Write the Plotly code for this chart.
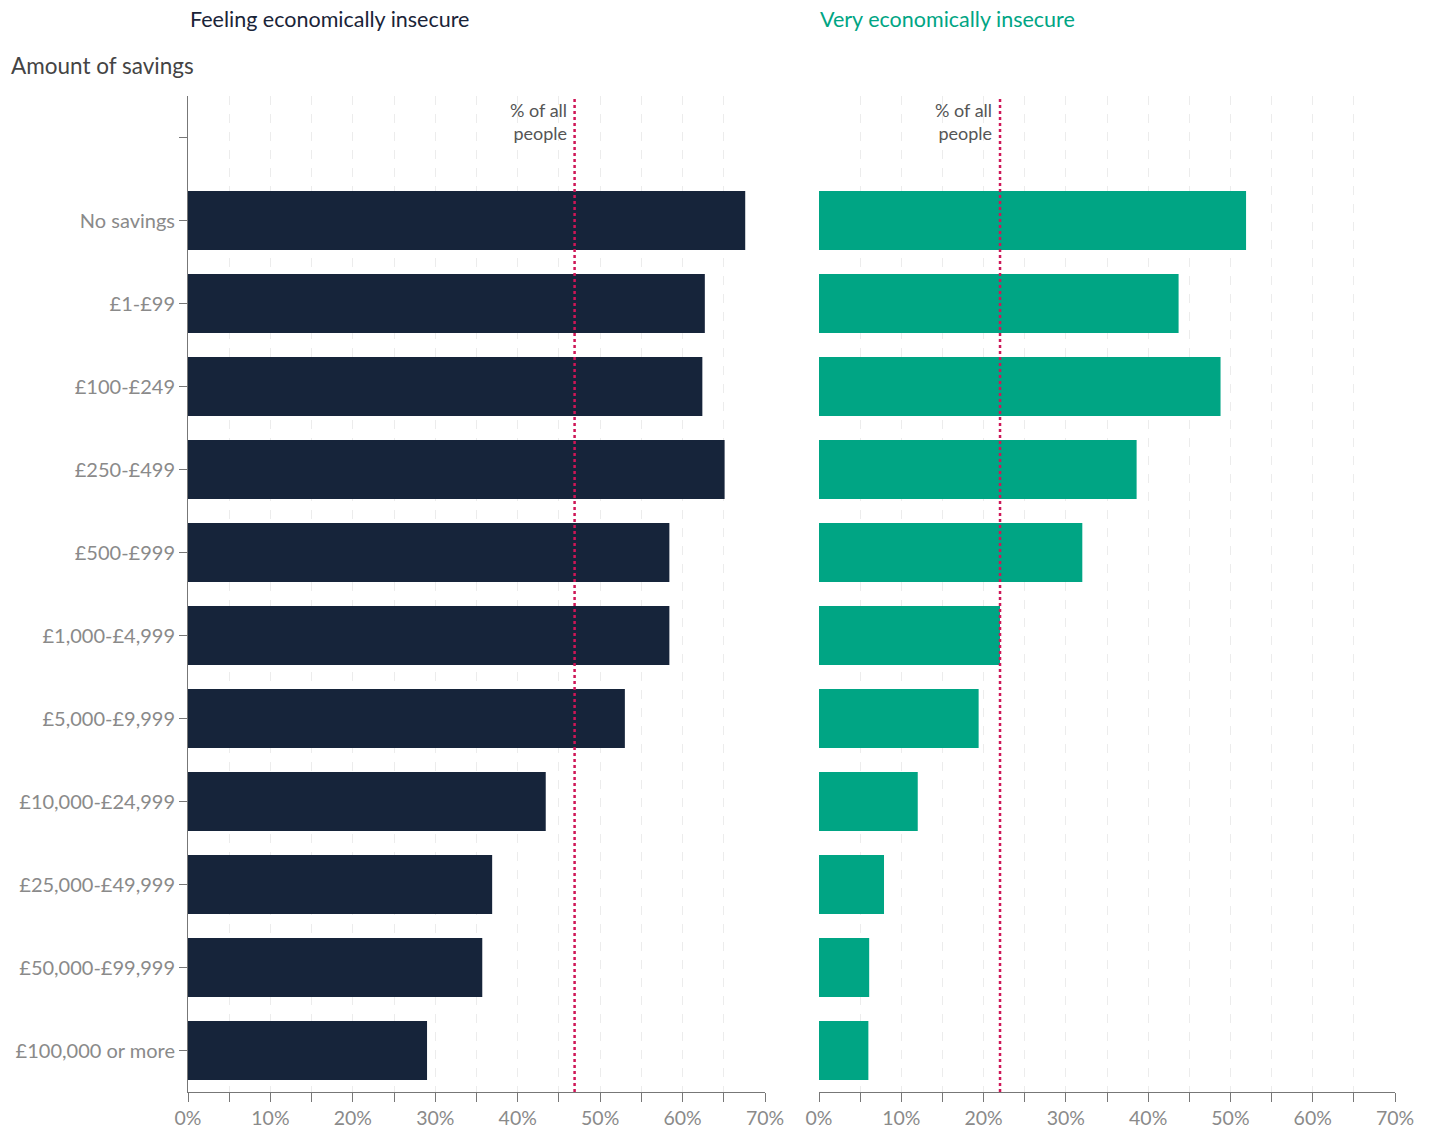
import plotly.graph_objects as go

categories = ["No savings", "£1-£99", "£100-£249", "£250-£499", "£500-£999",
              "£1,000-£4,999", "£5,000-£9,999", "£10,000-£24,999",
              "£25,000-£49,999", "£50,000-£99,999", "£100,000 or more"]
feeling_insecure = [67.6, 62.7, 62.4, 65.1, 58.4, 58.4, 53.0, 43.4, 36.9, 35.7, 29.0]
very_insecure = [51.9, 43.7, 48.8, 38.6, 32.0, 22.0, 19.4, 12.0, 7.9, 6.1, 6.0]
all_people_feeling = 46.9
all_people_very = 22.0
tick_vals = [0, 5, 10, 15, 20, 25, 30, 35, 40, 45, 50, 55, 60, 65, 70]
tick_text = ["0%", "", "10%", "", "20%", "", "30%", "", "40%", "", "50%", "", "60%", "", "70%"]

NAVY = "#16243a"
GREEN = "#00a584"
RED = "#cf1657"
GRAY = "#8a8a8a"
FONT = "Lato"

cat_order = [" "] + categories

fig = go.Figure()
fig.add_trace(go.Bar(y=categories, x=feeling_insecure, orientation="h",
                     marker=dict(color=NAVY, line=dict(width=0)), width=0.71,
                     xaxis="x", yaxis="y", showlegend=False, hoverinfo="x+y"))
fig.add_trace(go.Bar(y=categories, x=very_insecure, orientation="h",
                     marker=dict(color=GREEN, line=dict(width=0)), width=0.71,
                     xaxis="x2", yaxis="y2", showlegend=False, hoverinfo="x+y"))

W, H = 1434, 1129
ydom = [1 - 1092 / H, 1 - 96 / H]

xcommon = dict(range=[0, 70], tickvals=tick_vals, ticktext=tick_text,
               showgrid=True, gridcolor="#ececec", griddash="dash", gridwidth=1,
               showline=True, linecolor="#777777", linewidth=1,
               ticks="outside", ticklen=9, tickcolor="#777777",
               tickfont=dict(family=FONT, size=19.5, color=GRAY),
               zeroline=False, fixedrange=True, automargin=False)

fig.update_layout(
    width=W, height=H,
    margin=dict(l=0, r=0, t=0, b=0),
    paper_bgcolor="white", plot_bgcolor="white",
    font=dict(family=FONT),
    bargap=0.29,
    xaxis=dict(domain=[188 / W, 765 / W], anchor="y", **xcommon),
    xaxis2=dict(domain=[819 / W, 1395 / W], anchor="y2", **xcommon),
    yaxis=dict(domain=ydom, anchor="x", type="category",
               categoryorder="array", categoryarray=cat_order,
               range=[len(cat_order) - 0.5, -0.5],
               showline=True, linecolor="#777777", linewidth=1,
               ticks="outside", ticklen=8, tickcolor="#777777",
               tickfont=dict(family=FONT, size=20, color=GRAY),
               showgrid=False, automargin=False),
    yaxis2=dict(domain=ydom, anchor="x2", type="category",
                categoryorder="array", categoryarray=cat_order,
                range=[len(cat_order) - 0.5, -0.5],
                showline=False, ticks="", showticklabels=False,
                showgrid=False, automargin=False),
)

# reference lines
fig.add_shape(type="line", xref="x", yref="y domain", x0=all_people_feeling, x1=all_people_feeling,
              y0=0, y1=1, line=dict(color=RED, width=2.5, dash="dot"), layer="above")
fig.add_shape(type="line", xref="x2", yref="y2 domain", x0=all_people_very, x1=all_people_very,
              y0=0, y1=1, line=dict(color=RED, width=2.5, dash="dot"), layer="above")

for xr, xv in (("x", all_people_feeling), ("x2", all_people_very)):
    fig.add_annotation(xref=xr, yref="paper", x=xv, y=1 - 122 / H, text="% of all<br>people",
                       showarrow=False, xanchor="right", yanchor="middle", align="right",
                       xshift=-6, font=dict(family=FONT, size=18, color="#555555"))

fig.add_annotation(xref="paper", yref="paper", x=188 / W, y=1 - 19 / H, text="Feeling economically insecure",
                   showarrow=False, xanchor="left", yanchor="middle",
                   font=dict(family=FONT, size=21.5, color="#1a2438"))
fig.add_annotation(xref="paper", yref="paper", x=818 / W, y=1 - 19 / H, text="Very economically insecure",
                   showarrow=False, xanchor="left", yanchor="middle",
                   font=dict(family=FONT, size=21.5, color=GREEN))
fig.add_annotation(xref="paper", yref="paper", x=9 / W, y=1 - 65 / H, text="Amount of savings",
                   showarrow=False, xanchor="left", yanchor="middle",
                   font=dict(family=FONT, size=22.5, color="#444444"))

fig.write_html("out.html")
